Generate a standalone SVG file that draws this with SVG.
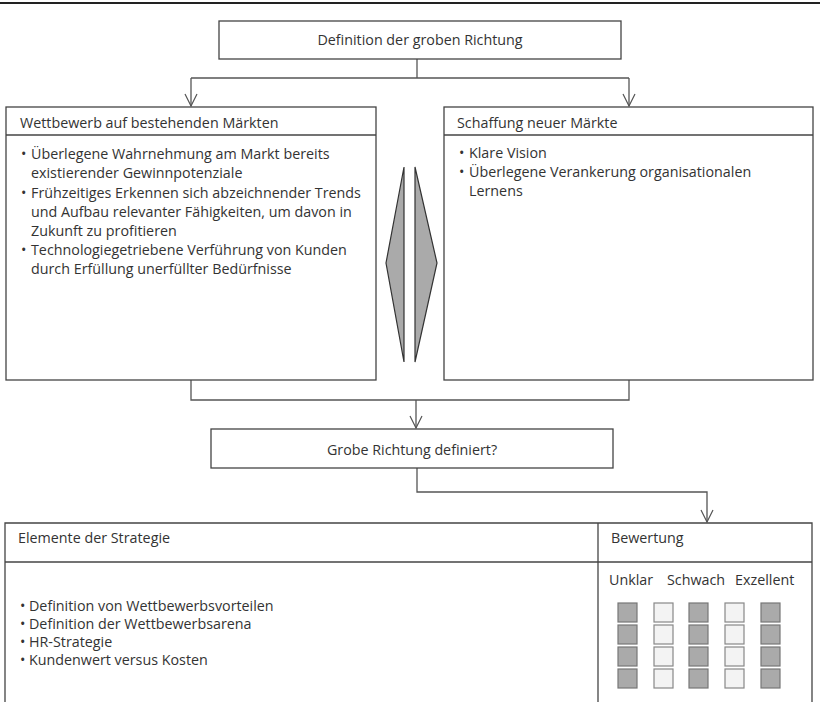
<svg xmlns="http://www.w3.org/2000/svg" width="820" height="702" viewBox="0 0 820 702">
<defs>
<style>
text{font-family:"Open Sans","Noto Sans","Liberation Sans",sans-serif;font-size:14.3px;fill:#333}
.box{fill:#fff;stroke:#444;stroke-width:1.3}
.ln{fill:none;stroke:#555;stroke-width:1.3}
.dia{fill:#aaa;stroke:#333;stroke-width:1.2}
.dk{fill:#aaa;stroke:#777;stroke-width:1.2}
.lt{fill:#f3f3f3;stroke:#888;stroke-width:1.2}
.mid{text-anchor:middle}
</style>
<marker id="ah" viewBox="0 0 14 14" refX="7" refY="13" markerWidth="14" markerHeight="14" markerUnits="userSpaceOnUse" orient="0">
<path d="M1,1 L7,13 L13,1" fill="none" stroke="#555" stroke-width="1.2"/>
</marker>
</defs>
<line x1="0" y1="3" x2="820" y2="3" stroke="#222" stroke-width="2"/>

<g id="connectors">
<path class="ln" d="M417,59 V78"/>
<path class="ln" d="M191,78 H629"/>
<path class="ln" d="M191,78 V106" marker-end="url(#ah)"/>
<path class="ln" d="M629,78 V106" marker-end="url(#ah)"/>
<path class="ln" d="M191,285 V400 H629 V380"/>
<path class="ln" d="M416,400 V428" marker-end="url(#ah)"/>
<path class="ln" d="M417,468 V492 H707 V522" marker-end="url(#ah)"/>
</g>

<g id="top">
<rect class="box" x="219" y="21" width="402" height="38"/>
<text class="mid" x="420" y="45">Definition der groben Richtung</text>
</g>

<g id="left">
<rect class="box" x="6" y="107" width="370" height="273"/>
<line class="box" x1="6" y1="135" x2="376" y2="135"/>
<text x="20" y="128">Wettbewerb auf bestehenden Märkten</text>
<text x="21" y="159">•</text><text x="31" y="159">Überlegene Wahrnehmung am Markt bereits</text>
<text x="31" y="178">existierender Gewinnpotenziale</text>
<text x="21" y="198">•</text><text x="31" y="198">Frühzeitiges Erkennen sich abzeichnender Trends</text>
<text x="31" y="217">und Aufbau relevanter Fähigkeiten, um davon in</text>
<text x="31" y="236">Zukunft zu profitieren</text>
<text x="21" y="255">•</text><text x="31" y="255">Technologiegetriebene Verführung von Kunden</text>
<text x="31" y="274">durch Erfüllung unerfüllter Bedürfnisse</text>
</g>

<g id="diamond">
<polygon class="dia" points="404,167 386,263 404,362"/>
<polygon class="dia" points="415,167 437,263 415,362"/>
</g>

<g id="right">
<rect class="box" x="444" y="107" width="369" height="273"/>
<line class="box" x1="444" y1="135" x2="813" y2="135"/>
<text x="457" y="128">Schaffung neuer Märkte</text>
<text x="459" y="158">•</text><text x="469" y="158">Klare Vision</text>
<text x="459" y="177">•</text><text x="469" y="177">Überlegene Verankerung organisationalen</text>
<text x="469" y="196">Lernens</text>
</g>

<g id="decision">
<rect class="box" x="211" y="429" width="402" height="39"/>
<text class="mid" x="412" y="455">Grobe Richtung definiert?</text>
</g>

<g id="table">
<path class="box" d="M5,703 V523 H812 V703"/>
<line class="box" x1="598" y1="523" x2="598" y2="703"/>
<line class="box" x1="5" y1="562" x2="812" y2="562"/>
<text x="18" y="543">Elemente der Strategie</text>
<text x="611" y="543">Bewertung</text>
<text x="20" y="611">•</text><text x="29" y="611">Definition von Wettbewerbsvorteilen</text>
<text x="20" y="629">•</text><text x="29" y="629">Definition der Wettbewerbsarena</text>
<text x="20" y="647">•</text><text x="29" y="647">HR-Strategie</text>
<text x="20" y="665">•</text><text x="29" y="665">Kundenwert versus Kosten</text>
<text x="609" y="585">Unklar</text>
<text x="667" y="585">Schwach</text>
<text x="735" y="585">Exzellent</text>
</g>

<g id="ratings">
<rect class="dk" x="618" y="603" width="19" height="19"/>
<rect class="dk" x="618" y="625" width="19" height="19"/>
<rect class="dk" x="618" y="647" width="19" height="19"/>
<rect class="dk" x="618" y="669" width="19" height="19"/>
<rect class="lt" x="654" y="603" width="19" height="19"/>
<rect class="lt" x="654" y="625" width="19" height="19"/>
<rect class="lt" x="654" y="647" width="19" height="19"/>
<rect class="lt" x="654" y="669" width="19" height="19"/>
<rect class="dk" x="689" y="603" width="19" height="19"/>
<rect class="dk" x="689" y="625" width="19" height="19"/>
<rect class="dk" x="689" y="647" width="19" height="19"/>
<rect class="dk" x="689" y="669" width="19" height="19"/>
<rect class="lt" x="725" y="603" width="19" height="19"/>
<rect class="lt" x="725" y="625" width="19" height="19"/>
<rect class="lt" x="725" y="647" width="19" height="19"/>
<rect class="lt" x="725" y="669" width="19" height="19"/>
<rect class="dk" x="761" y="603" width="19" height="19"/>
<rect class="dk" x="761" y="625" width="19" height="19"/>
<rect class="dk" x="761" y="647" width="19" height="19"/>
<rect class="dk" x="761" y="669" width="19" height="19"/>
</g>
</svg>
